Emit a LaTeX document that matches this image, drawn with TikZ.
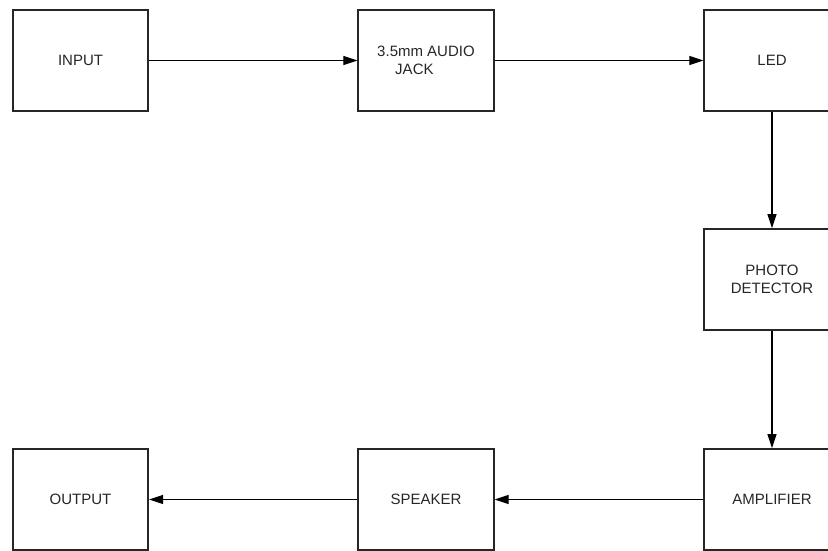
\documentclass[tikz,border=0pt]{standalone}
\usepackage{fontspec}
\setmainfont{Liberation Sans}
\usetikzlibrary{arrows.meta}
\begin{document}
\begin{tikzpicture}[x=1pt,y=-1pt,
  blk/.style={draw=black!85,line width=1.8pt,minimum width=135.5pt,minimum height=101pt,inner sep=0pt,
    font=\fontsize{15}{18}\selectfont,text=black!85,align=center},
  conn/.style={draw=black,line width=1.2pt,-{Triangle[length=14pt,width=9pt]}}]
\clip (0,0) rectangle (828,550);
\node[blk] (in) at (80.5,60.5) {INPUT};
\node[blk,align=left] (jack) at (426,60.5) {3.5mm AUDIO\\\hspace*{18pt}JACK};
\node[blk] (led) at (772,60.5) {LED};
\node[blk] (pd) at (772,279.5) {PHOTO\\DETECTOR};
\node[blk] (amp) at (772,499.5) {AMPLIFIER};
\node[blk] (spk) at (426,499.5) {SPEAKER};
\node[blk] (out) at (80.5,499.5) {OUTPUT};
\draw[conn] (in) -- (jack);
\draw[conn] (jack) -- (led);
\draw[conn] (led) -- (pd);
\draw[conn] (pd) -- (amp);
\draw[conn] (amp) -- (spk);
\draw[conn] (spk) -- (out);
\end{tikzpicture}
\end{document}
